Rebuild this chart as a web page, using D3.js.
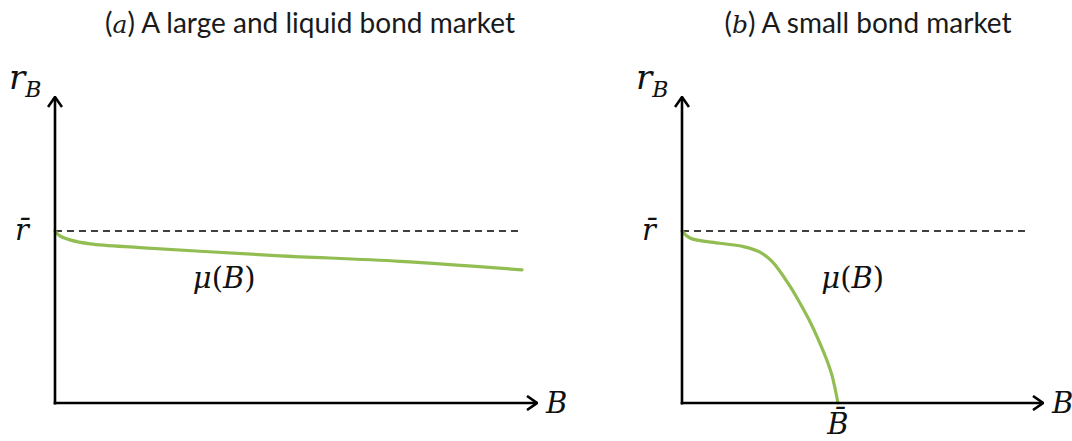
<!DOCTYPE html>
<html>
<head>
<meta charset="utf-8">
<script src="https://cdn.jsdelivr.net/npm/d3@7"></script>
<style>
  body { margin: 0; background: #fff; }
  .title { font-family: Lato, "Open Sans", sans-serif; font-size: 28px; fill: #1a1a1a; }
  .math { font-family: "DejaVu Serif", "Liberation Serif", serif; font-size: 29px; fill: #111; }
</style>
</head>
<body>
<div id="chart"></div>
<script>
// Data (axes in arbitrary units 0..10)
const rBar = 5.62;

// panel a: large and liquid market
const largeB  = [0, 0.10, 0.31, 0.73, 1.76, 3.01, 4.67, 7.16, 9.69];
const largeMu = [5.62, 5.46, 5.33, 5.20, 5.08, 4.96, 4.81, 4.63, 4.35];

// panel b: small market
const smallB  = [0, 0.22, 1.05, 1.70, 2.16, 2.50, 2.99, 3.27, 3.55, 3.77, 3.99, 4.16, 4.32];
const smallMu = [5.62, 5.39, 5.22, 5.11, 4.93, 4.62, 3.82, 3.26, 2.65, 2.09, 1.47, 0.88, 0];
const bBar = 4.32;

const titles = ["a", "b"];
const titleText = [" A large and liquid bond market", " A small bond market"];

const svgWidth = 1072, svgHeight = 441;

const svg = d3.select("#chart")
    .append("svg")
    .attr("width", svgWidth)
    .attr("height", svgHeight);

const defs = svg.append("defs");
defs.append("marker")
    .attr("id", "arrow")
    .attr("viewBox", "0 0 12 16")
    .attr("refX", 11)
    .attr("refY", 8)
    .attr("markerWidth", 12)
    .attr("markerHeight", 16)
    .attr("markerUnits", "userSpaceOnUse")
    .attr("orient", "auto")
    .append("path")
    .attr("d", "M1,1 L11,8 L1,15")
    .attr("fill", "none")
    .attr("stroke", "#000")
    .attr("stroke-width", 2.6);

const panels = [
    { left: 55, right: 537, xs: largeB, ys: largeMu, dashEnd: 9.7, titleX: 310, mu: [2.86, 3.75] },
    { left: 682, right: 1043, xs: smallB, ys: smallMu, dashEnd: 9.6, titleX: 868, mu: [3.86, 3.75] }
];

panels.forEach((p, i) => {
    const x = d3.scaleLinear().domain([0, 10]).range([p.left, p.right]);
    const y = d3.scaleLinear().domain([0, 10]).range([403, 97]);
    const g = svg.append("g");

    // title
    const t = g.append("text")
        .attr("class", "title")
        .attr("x", p.titleX)
        .attr("y", 33)
        .attr("text-anchor", "middle");
    t.append("tspan").text("(");
    t.append("tspan").attr("font-family", "DejaVu Serif").attr("font-style", "italic").attr("font-size", 25).text(titles[i]);
    t.append("tspan").text(")" + titleText[i]);

    // dashed r-bar line
    g.append("line")
        .attr("x1", x(0)).attr("x2", x(p.dashEnd))
        .attr("y1", y(rBar)).attr("y2", y(rBar))
        .attr("stroke", "#000")
        .attr("stroke-width", 1.5)
        .attr("stroke-dasharray", "7,5");

    // the curve
    const pts = p.xs.map((v, k) => [v, p.ys[k]]);
    g.append("path")
        .datum(pts)
        .attr("fill", "none")
        .attr("stroke", "#92bd52")
        .attr("stroke-width", 3.2)
        .attr("stroke-linecap", "round")
        .attr("d", d3.line().x(d => x(d[0])).y(d => y(d[1])).curve(d3.curveCatmullRom.alpha(0.5)));

    // axes
    g.append("line")
        .attr("x1", x(0)).attr("x2", x(0))
        .attr("y1", y(0) + 1.5).attr("y2", y(10))
        .attr("stroke", "#000").attr("stroke-width", 2.6)
        .attr("marker-end", "url(#arrow)");
    g.append("line")
        .attr("x1", x(0) - 1.3).attr("x2", x(10))
        .attr("y1", y(0)).attr("y2", y(0))
        .attr("stroke", "#000").attr("stroke-width", 2.6)
        .attr("marker-end", "url(#arrow)");

    // axis labels
    const rb = g.append("text").attr("class", "math")
        .attr("x", x(0) - 46).attr("y", y(10) - 8)
        .attr("font-style", "italic");
    rb.append("tspan").attr("font-size", 34).text("r");
    rb.append("tspan").attr("font-size", 22).attr("dy", 8).text("B");

    g.append("text").attr("class", "math")
        .attr("x", x(0) - 40).attr("y", y(rBar) + 9)
        .attr("font-style", "italic").attr("font-size", 33)
        .text("r\u0304");

    g.append("text").attr("class", "math")
        .attr("x", x(10) + 9).attr("y", y(0) + 10)
        .attr("font-style", "italic").attr("font-size", 27)
        .text("B");

    const mu = g.append("text").attr("class", "math")
        .attr("x", x(p.mu[0])).attr("y", y(p.mu[1]));
    mu.append("tspan").attr("font-style", "italic").text("\u03bc");
    mu.append("tspan").text("(");
    mu.append("tspan").attr("font-style", "italic").text("B");
    mu.append("tspan").text(")");
});

// B-bar label under the small-market root
const xb = d3.scaleLinear().domain([0, 10]).range([682, 1043]);
svg.append("text").attr("class", "math")
    .attr("x", xb(bBar)).attr("y", 434)
    .attr("text-anchor", "middle")
    .attr("font-style", "italic").attr("font-size", 25)
    .text("B\u0304");
</script>
</body>
</html>
